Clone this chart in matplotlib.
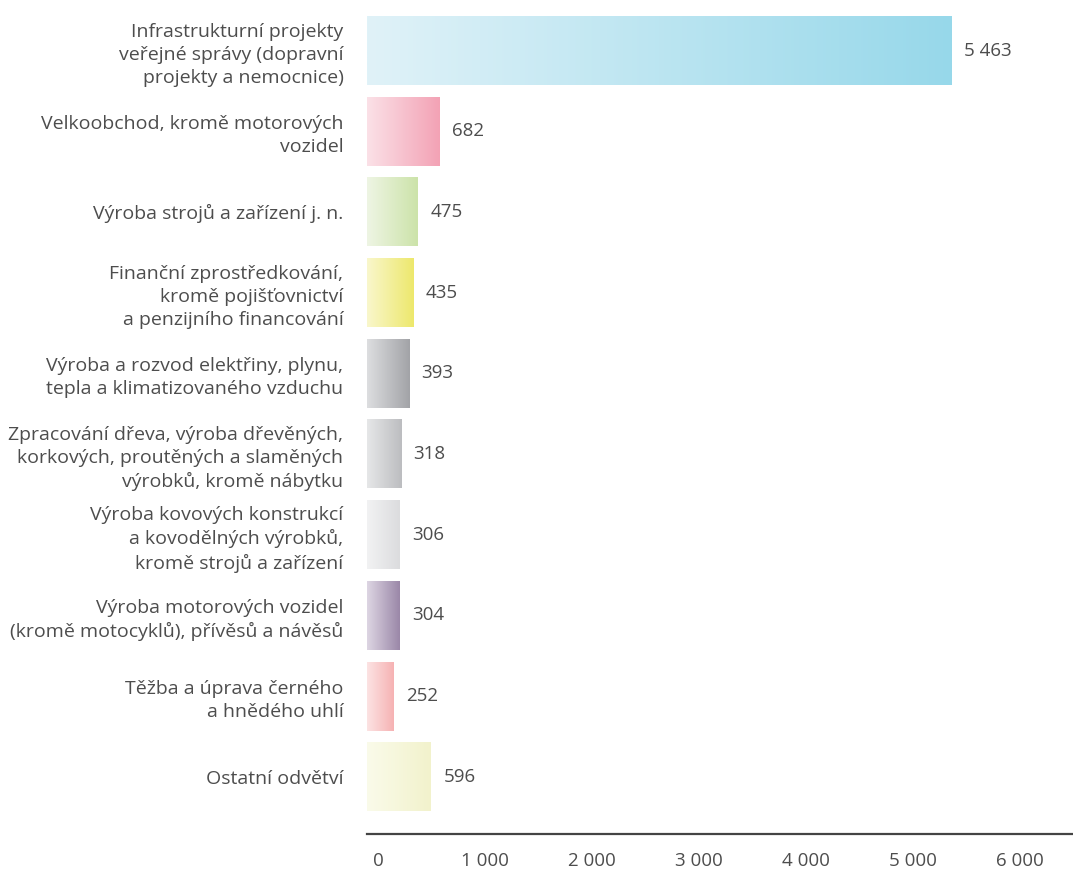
import numpy as np
import matplotlib.pyplot as plt
import matplotlib.transforms as mtransforms
from matplotlib.colors import LinearSegmentedColormap

plt.rcParams['font.family'] = ['Open Sans', 'DejaVu Sans']

odvetvi = [
    "Infrastrukturní projekty\nveřejné správy (dopravní\nprojekty a nemocnice)",
    "Velkoobchod, kromě motorových\nvozidel",
    "Výroba strojů a zařízení j. n.",
    "Finanční zprostředkování,\nkromě pojišťovnictví\na penzijního financování",
    "Výroba a rozvod elektřiny, plynu,\ntepla a klimatizovaného vzduchu",
    "Zpracování dřeva, výroba dřevěných,\nkorkových, proutěných a slaměných\nvýrobků, kromě nábytku",
    "Výroba kovových konstrukcí\na kovodělných výrobků,\nkromě strojů a zařízení",
    "Výroba motorových vozidel\n(kromě motocyklů), přívěsů a návěsů",
    "Těžba a úprava černého\na hnědého uhlí",
    "Ostatní odvětví",
]
hodnoty = [5463, 682, 475, 435, 393, 318, 306, 304, 252, 596]

# barvy přechodu (vlevo, vpravo)
barvy_od = ["#e0f2f8", "#fbe1e7", "#eef5e4", "#f9f7cc", "#dddee0",
            "#e6e7e8", "#f2f2f3", "#ddd6e3", "#fce3e3", "#fafbea"]
barvy_do = ["#97d8ea", "#f3a2b5", "#cce3a9", "#ede86c", "#a2a3a7",
            "#bcbdc0", "#dbdcde", "#9b87a8", "#f6b2b3", "#f2f2cc"]

text_barva = "#4d4d4d"

fig = plt.figure(figsize=(10.73, 8.72), dpi=100)
ax = fig.add_axes([367 / 1073, 38 / 872, 706 / 1073, 834 / 872])

y = np.arange(len(hodnoty))
bars = ax.barh(y, hodnoty, height=0.855, color="none", edgecolor="none")

gradient = np.linspace(0, 1, 256).reshape(1, -1)
for bar, c1, c2, val in zip(bars, barvy_od, barvy_do, hodnoty):
    x0, y0 = bar.get_x(), bar.get_y()
    w, h = bar.get_width(), bar.get_height()
    cmap = LinearSegmentedColormap.from_list("g", [c1, c2])
    ax.imshow(gradient, cmap=cmap, aspect="auto",
              extent=(x0, x0 + w, y0 + h, y0), zorder=2)
    ax.annotate(f"{val:,}".replace(",", " "), (x0 + w, y0 + h / 2),
                xytext=(9, 0), textcoords="offset points",
                ha="left", va="center", fontsize=13.5, color=text_barva)

ax.set_xlim(0, 6598)
ax.set_ylim(9.709, -0.626)

ax.set_yticks(y)
ax.set_yticklabels(odvetvi, fontsize=14, color=text_barva, ha="right",
                   linespacing=1.35)
ax.set_xticks(np.arange(0, 7000, 1000))
ax.set_xticklabels([f"{v:,}".replace(",", " ") for v in range(0, 7000, 1000)],
                   fontsize=13.5, color=text_barva)
ax.tick_params(axis="y", length=0, pad=17)
ax.tick_params(axis="x", length=0, pad=13)

# popisky osy x mírně posunout doprava
posun = mtransforms.ScaledTranslation(11 / 100, 0, fig.dpi_scale_trans)
for lbl in ax.get_xticklabels():
    lbl.set_transform(lbl.get_transform() + posun)

for s in ["top", "right", "left"]:
    ax.spines[s].set_visible(False)
ax.spines["bottom"].set_color("#444444")
ax.spines["bottom"].set_linewidth(1.6)

fig.savefig("out.png", dpi=100)
